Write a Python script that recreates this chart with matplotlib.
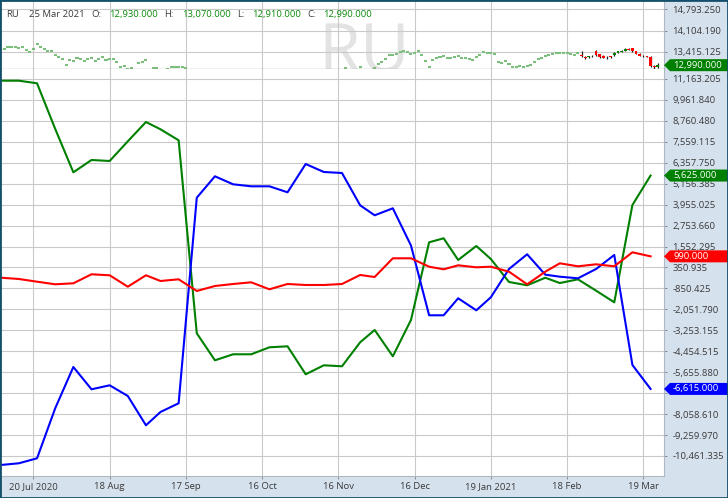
import numpy as np
import pandas as pd
import matplotlib
matplotlib.use("Agg")
import matplotlib.pyplot as plt
import matplotlib.transforms as mtransforms
from matplotlib.patches import Polygon, Rectangle
from matplotlib.ticker import FixedLocator, FixedFormatter, FuncFormatter

plt.rcParams['font.family'] = ['Open Sans', 'DejaVu Sans']

# ------------------------------------------------------------------ data
symbol = "RU"
last_date_label = "25 Mar 2021"
holidays = ["2020-07-03", "2020-09-07", "2020-11-26", "2020-12-25",
            "2021-01-01", "2021-01-18", "2021-02-15"]

cot_dates = ["2020-07-07", "2020-07-14", "2020-07-21", "2020-07-28",
             "2020-08-04", "2020-08-11", "2020-08-18", "2020-08-25",
             "2020-09-01", "2020-09-08", "2020-09-15", "2020-09-22", "2020-09-29",
             "2020-10-06", "2020-10-13", "2020-10-20", "2020-10-27",
             "2020-11-03", "2020-11-10", "2020-11-17", "2020-11-24",
             "2020-12-01", "2020-12-08", "2020-12-15", "2020-12-22", "2020-12-29",
             "2021-01-05", "2021-01-12", "2021-01-19", "2021-01-26",
             "2021-02-02", "2021-02-09", "2021-02-16", "2021-02-23",
             "2021-03-02", "2021-03-09", "2021-03-16", "2021-03-23"]

green_vals = [11066, 11066, 10917, 8300, 5811, 6517, 6460, 7590,
              8697, 8278, 7647, -3424, -4973,
              -4628, -4628, -4227, -4170,
              -5775, -5259, -5316, -3940,
              -3234, -4743, -2661, 1796, 2026,
              781, 1584, 838, -481,
              -670, -237, -541, -328,
              -980, -1646, 3936, 5625]

blue_vals = [-10978, -10880, -10594, -7726, -5357, -6636, -6407, -7020,
             -8701, -7938, -7439, 4354, 5582,
             5123, 5008, 5008, 4664,
             6287, 5829, 5771, 3918,
             3345, 3746, 1613, -2391, -2391,
             -1416, -2105, -1359, 265,
             1108, -62, -177, -269,
             265, 1068, -5242, -6615]

red_vals = [-234, -309, -464, -613, -556, -39, -96, -751,
            -96, -424, -327, -997, -710,
            -596, -499, -900, -596,
            -653, -653, -596, -79,
            -194, 878, 878, 396, 247,
            476, 362, 396, 110,
            -613, 110, 591, 419,
            534, 419, 1222, 990]

# daily closes of the faded (earlier) price bars, from 7 Jul 2020; None = below panel
faded_start = "2020-07-07"
faded_closes = [
    13500, 13521, 13576, 13586, 13570, 13554, 13576, 13480, 13425, 13521,
    13683, 13586, 13521, 13457, 13457, 13318, 13263, 13180, 13005, 13157,
    13134, 13222, 13180, 13115, 13180, 13222, 13134, 13199, 13244, 13157,
    13199, 13199, 13092, 12941, 12963, 12876, 12899, None, 13070, 13102,
    13157, None, 12899, 12899, None, None, 12876, 12921, 12931, 12925,
    12931, 12899, None, None, None, None, None, None, None, None,
    None, None, None, None, None, None, None, None, None, None,
    None, None, None, None, None, None, None, None, None, None,
    None, None, None, None, None, None, None, None, None, None,
    None, None, None, None, None, 12889, None, None, None, 12941,
    None, None, None, 12889, 13038, 13100, 13179, 13308, 13330, 13360,
    13404, 13437, 13400, 13360, 13393, 13457, 13318, 13134, 12941, 13157,
    13220, 13254, 13280, 13212, 13230, 13244, 13286, 13231, 13215, 13199,
    13167, 13240, 13308, 13415, 13393, 13370, 13340, 13092, 13050, 13115,
    13030, 12941, 12941, 12963, 12941, 12970, 13005, 13090, 13180, 13222,
    13286, 13310, 13340, 13373, 13390, 13393, 13373, 13340, 13318, 13373,
]

# recent candles, from 24 Feb 2021 to 25 Mar 2021
candle_start = "2021-02-24"
c_open = [13330, 13250, 13260, 13300, 13450, 13340, 13290, 13250, 13270, 13310, 13393,
          13420, 13450, 13510, 13530, 13440, 13360, 13290, 13290, 13260, 12950, 12930]
c_high = [13440, 13300, 13300, 13330, 13470, 13350, 13310, 13280, 13290, 13400, 13450,
          13470, 13530, 13540, 13540, 13450, 13370, 13310, 13300, 13270, 12990, 13070]
c_low = [13240, 13190, 13230, 13260, 13300, 13230, 13210, 13200, 13220, 13300, 13380,
         13400, 13440, 13470, 13430, 13340, 13280, 13240, 13240, 12930, 12880, 12910]
c_close = [13280, 13220, 13290, 13280, 13310, 13240, 13230, 13260, 13240, 13390, 13447,
           13440, 13500, 13490, 13440, 13350, 13300, 13270, 13260, 12950, 12930, 12990]

top_ticks = [14793.250, 14104.190, 13415.125]
bot_ticks = [11163.205, 9961.840, 8760.480, 7559.115, 6357.750, 5156.385, 3955.025,
             2753.660, 1552.295, 350.935, -850.425, -2051.790, -3253.155, -4454.515,
             -5655.880, -6857.245, -8058.610, -9259.970, -10461.335]
hidden_tick = -6857.245   # covered by the blue value box in the reference

date_ticks = ["2020-07-20", "2020-08-18", "2020-09-17", "2020-10-16", "2020-11-16",
              "2020-12-16", "2021-01-19", "2021-02-18", "2021-03-19"]
date_labels = ["20 Jul 2020", "18 Aug", "17 Sep", "16 Oct", "16 Nov",
               "16 Dec", "19 Jan 2021", "18 Feb", "19 Mar"]

# ------------------------------------------------------------------ trading-day axis
cal = pd.bdate_range("2020-06-01", "2021-04-30", freq="C", holidays=holidays)
cal_pos = pd.Series(np.arange(len(cal), dtype=float), index=cal)


def tindex(dates):
    return cal_pos.loc[pd.to_datetime(dates)].to_numpy()


faded_days = cal[cal >= pd.Timestamp(faded_start)][:len(faded_closes)]
candle_days = cal[cal >= pd.Timestamp(candle_start)][:len(c_close)]
x_faded = tindex(faded_days)
x_candle = tindex(candle_days)
x_cot = tindex(cot_dates)
x_ticks = tindex(date_ticks)

# ------------------------------------------------------------------ figure
W, H = 728, 498
fig = plt.figure(figsize=(W / 100, H / 100), dpi=100)
fig.patch.set_facecolor("white")


def fx(px):
    return px / W


def fy(py):
    return 1 - py / H


panel_col = "#d6e1ee"
fig.add_artist(Rectangle((fx(664), 0), 1 - fx(664), 1, transform=fig.transFigure,
                         facecolor=panel_col, edgecolor="none", zorder=-2))
fig.add_artist(Rectangle((0, 0), 1, fy(476), transform=fig.transFigure,
                         facecolor=panel_col, edgecolor="none", zorder=-2))

ax_top = fig.add_axes([fx(1), fy(69), fx(664) - fx(1), fy(1) - fy(69)])
ax_bot = fig.add_axes([fx(1), fy(476), fx(664) - fx(1), fy(69) - fy(476)], sharex=ax_top)

origin = x_ticks[0]
ax_bot.set_xlim(origin - 8.93, origin + 173.7)
ax_top.set_ylim(12866.5, 15061)
ax_bot.set_ylim(-11609.7, 11736.8)

grid_col = "#c9c9c9"
label_col = "#3a3a3a"
fs = 6.8


def fmt(v, p):
    if abs(v - hidden_tick) < 1e-6:
        return ""
    return f"{v:,.3f}"


for ax, ticks in ((ax_top, top_ticks), (ax_bot, bot_ticks)):
    ax.set_facecolor("white")
    for s in ax.spines.values():
        s.set_visible(False)
    ax.spines["right"].set_visible(True)
    ax.spines["right"].set_color("#b0b8c4")
    ax.spines["right"].set_linewidth(0.8)
    ax.yaxis.tick_right()
    ax.yaxis.set_major_locator(FixedLocator(ticks))
    ax.yaxis.set_major_formatter(FuncFormatter(fmt))
    ax.tick_params(axis="y", direction="out", length=2.5, width=0.7, color="#8a8a8a",
                   pad=3.4, labelsize=fs, labelcolor=label_col)
    ax.grid(True, color=grid_col, lw=0.8)
    ax.set_axisbelow(True)
    ax.xaxis.set_major_locator(FixedLocator(x_ticks))

ax_top.spines["bottom"].set_visible(True)
ax_top.spines["bottom"].set_color("#8c8c8c")
ax_top.spines["bottom"].set_linewidth(0.9)
ax_top.tick_params(axis="x", bottom=False, labelbottom=False)

ax_bot.spines["bottom"].set_visible(True)
ax_bot.spines["bottom"].set_color("#b0b8c4")
ax_bot.xaxis.set_major_formatter(FixedFormatter(date_labels))
ax_bot.tick_params(axis="x", direction="out", length=2.5, width=0.7, color="#8a8a8a",
                   pad=2.0, labelsize=fs, labelcolor=label_col)

# ------------------------------------------------------------------ price panel
ax_top.text(0.548, -0.05, symbol, transform=ax_top.transAxes, ha="center", va="baseline",
            fontsize=49, color="#e3e3e3", zorder=0.1, clip_on=True)

fc = np.array(faded_closes, dtype=float)
m = ~np.isnan(fc)
ax_top.hlines(fc[m], x_faded[m] - 0.42, x_faded[m] + 0.42, colors="#7cbf7c", lw=1.5, zorder=2)

co = np.array(c_open, float)
cc = np.array(c_close, float)
ax_top.vlines(x_candle, c_low, c_high, colors="#1e1e1e", lw=0.9, zorder=3)
body_cols = np.where(cc >= co, "#008000", "#ff0000")
ax_top.bar(x_candle, np.abs(cc - co), bottom=np.minimum(co, cc), width=0.75,
           color=body_cols, zorder=4)

# ------------------------------------------------------------------ COT lines
ax_bot.plot(x_cot, green_vals, color="#008000", lw=1.5, zorder=3)
ax_bot.plot(x_cot, blue_vals, color="#0000ff", lw=1.5, zorder=3)
ax_bot.plot(x_cot, red_vals, color="#ff0000", lw=1.5, zorder=3)


# ------------------------------------------------------------------ value boxes
def value_box(ax, v, color):
    base = mtransforms.blended_transform_factory(ax.transAxes, ax.transData)
    tr = fig.dpi_scale_trans + mtransforms.ScaledTranslation(1.0, v, base)
    h = 6 / 100
    verts = [(0, 0), (6 / 100, h), (64 / 100, h), (64 / 100, -h), (6 / 100, -h)]
    ax.add_patch(Polygon(verts, closed=True, transform=tr, facecolor=color,
                         edgecolor="none", clip_on=False, zorder=10))
    ax.text(9 / 100, 0, f"{v:,.3f}", transform=tr, ha="left", va="center",
            fontsize=fs, color="white", zorder=11, clip_on=False)


value_box(ax_top, c_close[-1], "#008000")
value_box(ax_bot, green_vals[-1], "#008000")
value_box(ax_bot, red_vals[-1], "#ff0000")
value_box(ax_bot, blue_vals[-1], "#0000ff")

# ------------------------------------------------------------------ header
hdr_y = fy(14.5)
dark = "#3a3a3a"
green_txt = "#0a8a0a"
items = [(symbol, 6, dark), (last_date_label, 29, dark),
         ("O:", 91, dark), (f"{c_open[-1]:,.3f}", 109, green_txt),
         ("H:", 164, dark), (f"{c_high[-1]:,.3f}", 182, green_txt),
         ("L:", 237, dark), (f"{c_low[-1]:,.3f}", 252, green_txt),
         ("C:", 307, dark), (f"{c_close[-1]:,.3f}", 323, green_txt)]
for s, px, col in items:
    fig.text(fx(px), hdr_y, s, ha="left", va="center", fontsize=fs, color=col)

# border
fig.add_artist(Rectangle((0, 0), 1, 1, transform=fig.transFigure, fill=False,
                         edgecolor="#14506a", lw=2.0, zorder=100))

fig.savefig("out.png", dpi=100)
